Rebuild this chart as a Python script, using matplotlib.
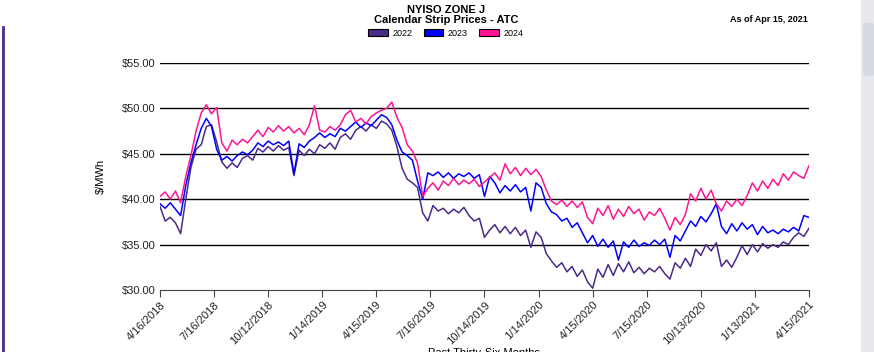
import matplotlib.pyplot as plt
import matplotlib.patches as mpatches
import numpy as np

plt.rcParams['font.family'] = ['Liberation Sans', 'DejaVu Sans']

# trading-day index, sampled every 6 days over the past 36 months
day_idx = np.arange(0, 757, 6)

tick_days = np.arange(0, 757, 63)
tick_labels = ['4/16/2018', '7/16/2018', '10/12/2018', '1/14/2019', '4/15/2019',
               '7/16/2019', '10/14/2019', '1/14/2020', '4/15/2020', '7/15/2020',
               '10/13/2020', '1/13/2021', '4/15/2021']

cal_2022 = [39.2, 37.6, 38.0, 37.4, 36.2, 40.0, 43.5, 45.5, 46.0, 48.0,
            48.2, 46.3, 44.1, 43.4, 44.0, 43.5, 44.5, 44.8, 44.3, 45.6,
            45.2, 45.8, 45.3, 45.9, 45.4, 45.7, 42.6, 45.4, 44.8, 45.5,
            45.0, 46.0, 45.6, 46.2, 45.5, 46.8, 47.2, 46.6, 47.6, 48.0,
            47.5, 48.2, 47.8, 48.6, 48.3, 47.6, 45.8, 43.4, 42.2, 41.8,
            41.3, 38.5, 37.6, 39.3, 38.7, 39.0, 38.4, 38.9, 38.5, 39.1,
            38.2, 37.6, 37.9, 35.8, 36.6, 37.2, 36.3, 37.0, 36.2, 36.9,
            36.0, 36.6, 34.7, 36.4, 35.8, 34.0, 33.2, 32.5, 33.0, 32.0,
            32.6, 31.5, 32.2, 30.9, 30.2, 32.3, 31.4, 32.8, 31.6, 32.9,
            32.0, 33.1, 31.9, 32.5, 31.8, 32.4, 32.0, 32.6, 31.8, 31.2,
            33.0, 32.4, 33.5, 32.6, 34.5, 33.8, 35.0, 34.3, 35.2, 32.6,
            33.3, 32.5, 33.6, 34.9, 33.9, 35.0, 34.2, 35.1, 34.6, 35.0,
            34.7, 35.3, 35.0, 35.8, 36.3, 35.9, 36.8]

cal_2023 = [39.5, 39.0, 39.6, 38.9, 38.2, 41.5, 44.0, 46.0, 47.8, 48.9,
            48.0, 45.5, 44.3, 44.7, 44.2, 44.8, 45.2, 44.9, 45.4, 46.2,
            45.8, 46.4, 46.0, 46.3, 45.9, 46.4, 42.8, 46.1, 45.7, 46.4,
            46.8, 47.3, 46.8, 47.2, 46.9, 47.8, 47.5, 48.0, 48.5, 47.9,
            48.4, 48.1, 48.7, 49.3, 49.0, 48.2, 46.5, 45.2, 44.8, 44.3,
            42.0, 40.0, 42.9, 42.6, 43.0, 42.4, 42.9, 42.3, 42.8, 42.5,
            42.9, 42.3, 42.7, 40.3, 42.5, 41.8, 40.7, 41.5, 40.9, 41.6,
            40.8, 41.3, 38.7, 41.8, 41.3, 39.5, 38.6, 38.3, 37.6, 37.9,
            36.9, 37.4, 36.3, 35.2, 36.0, 34.8, 35.6, 34.7, 35.4, 33.3,
            35.3, 34.7, 35.5, 34.8, 35.2, 34.9, 35.5, 35.0, 35.6, 33.6,
            36.0, 35.4, 36.5, 37.6, 37.0, 38.1, 37.5, 38.4, 39.5, 37.0,
            36.2, 37.3, 36.5, 37.4, 36.7, 37.2, 36.1, 37.0, 36.3, 36.6,
            36.2, 36.7, 36.4, 36.9, 36.5, 38.2, 38.0]

cal_2024 = [40.3, 40.8, 40.0, 40.9, 39.6, 42.5, 44.8, 47.5, 49.5, 50.4,
            49.4, 50.1, 46.2, 45.3, 46.5, 46.0, 46.6, 46.2, 46.9, 47.6,
            46.9, 47.9, 47.4, 48.1, 47.5, 48.0, 47.3, 47.8, 47.1, 48.2,
            50.3, 47.6, 47.4, 48.0, 47.6, 48.2, 49.3, 49.8, 48.5, 48.9,
            48.3, 49.1, 49.5, 49.8, 50.0, 50.7, 49.0, 47.9, 46.0, 45.3,
            44.0, 40.3, 41.2, 41.8, 41.0, 42.0, 41.5, 42.3, 41.6, 42.1,
            41.7, 42.2, 41.4, 41.9, 42.4, 42.9, 42.1, 43.9, 42.8, 43.5,
            42.6, 43.4, 42.7, 43.3, 42.5, 41.0, 39.8, 39.4, 39.9, 39.2,
            39.8, 39.1, 39.7, 38.0, 37.3, 39.0, 38.2, 39.3, 37.8, 38.9,
            38.1, 39.2, 38.4, 38.9, 37.7, 38.6, 38.2, 39.0, 37.9, 36.6,
            38.0, 37.2, 38.3, 40.6, 39.8, 41.2, 40.0, 41.0, 39.5, 38.7,
            39.8, 39.2, 40.0, 39.3, 40.4, 41.8, 40.9, 42.0, 41.2, 42.2,
            41.5, 42.8, 42.1, 43.0, 42.6, 42.3, 43.7]

series_names = ['2022', '2023', '2024']
series_colors = ['#4B2A88', '#0000FF', '#FF1493']

fig = plt.figure(figsize=(8.74, 3.52), dpi=100)
ax = fig.add_axes([160 / 874, 1 - 290 / 352, 649 / 874, 227 / 352])

for vals, name, col in zip([cal_2022, cal_2023, cal_2024], series_names, series_colors):
    ax.plot(day_idx, vals, color=col, lw=1.1, label=name)

ax.set_xlim(0, 756)
ax.set_ylim(30, 55)
ax.set_yticks(np.arange(30, 56, 5))
ax.set_yticklabels([f'${v:.2f}' for v in np.arange(30, 56, 5)], fontsize=8, color='#222222')
ax.set_xticks(tick_days)
ax.set_xticklabels(tick_labels, rotation=45, ha='right', rotation_mode='anchor', fontsize=8,
                   color='#222222')
ax.tick_params(axis='y', length=0, pad=3)
ax.tick_params(axis='x', length=5, color='#444444', pad=2)
for y in np.arange(35, 56, 5):
    ax.axhline(y, color='black', lw=1.0, zorder=0)
for s in ['left', 'right', 'top']:
    ax.spines[s].set_visible(False)
ax.spines['bottom'].set_color('#444444')
ax.set_ylabel('$/MWh', fontsize=8, labelpad=12)

fig.text(0.51, 1 - 10 / 352, 'NYISO ZONE J', ha='center', va='center', fontsize=8, fontweight='bold')
fig.text(0.51, 1 - 20 / 352, 'Calendar Strip Prices - ATC', ha='center', va='center',
         fontsize=8, fontweight='bold')
fig.text(808 / 874, 1 - 20 / 352, 'As of Apr 15, 2021', ha='right', va='center', fontsize=6.5,
         fontweight='bold')
# x-axis title sits at the bottom edge, partly clipped as in the page capture
fig.text(484 / 874, 1 - 348 / 352, 'Past Thirty-Six Months', ha='center', va='top', fontsize=8)

handles = [mpatches.Patch(facecolor=c, edgecolor='black', lw=0.8) for c in series_colors]
fig.legend(handles, series_names, loc='center', bbox_to_anchor=(0.51, 1 - 33 / 352), ncol=3,
           frameon=False, fontsize=6.5, handlelength=2.2, handleheight=0.9, columnspacing=1.2,
           handletextpad=0.5)

# page chrome: left accent bar and right scroll strip
fig.add_artist(plt.Line2D([3 / 874, 3 / 874], [0, 1 - 27 / 352], color='#4B2A88', lw=2))
fig.add_artist(mpatches.Rectangle((861 / 874, 0), 13 / 874, 1, transform=fig.transFigure,
                                  facecolor='#E8E9EE', edgecolor='none'))
fig.add_artist(mpatches.FancyBboxPatch((863 / 874, 1 - 77 / 352), 12 / 874, 55 / 352,
                                       boxstyle='round,pad=0,rounding_size=0.012',
                                       transform=fig.transFigure, facecolor='#D6D9E0',
                                       edgecolor='none'))

fig.savefig('out.png', dpi=100)
